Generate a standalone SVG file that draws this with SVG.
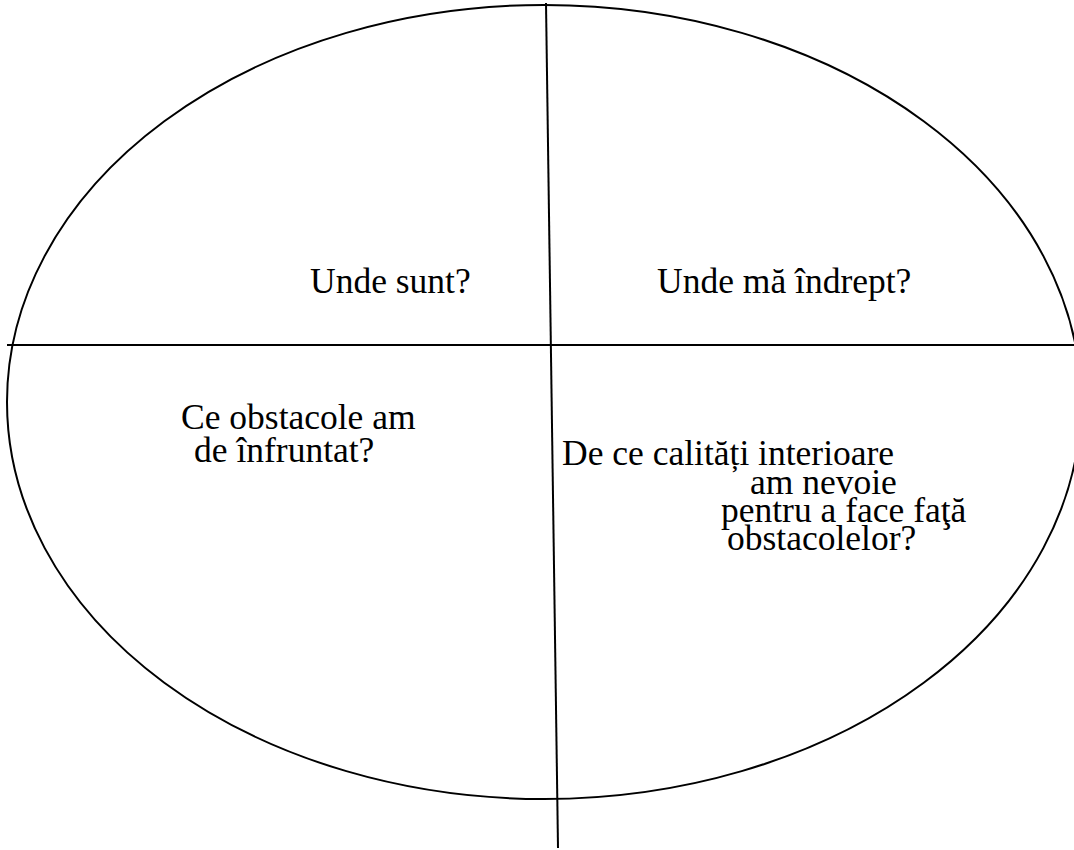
<svg xmlns="http://www.w3.org/2000/svg" width="1074" height="850" viewBox="0 0 1074 850">
<style>
.ln{fill:none;stroke:#000;stroke-width:2}
.t{font-family:"Liberation Serif","Times New Roman",serif;font-size:35.5px;fill:#000}
</style>
<rect width="1074" height="850" fill="#fff"/>
<g id="connectors">
<ellipse class="ln" cx="544" cy="402" rx="537" ry="397"/>
<line class="ln" x1="546" y1="3" x2="558" y2="848"/>
<line class="ln" x1="7" y1="345" x2="1074" y2="345"/>
</g>
<g id="q1"><text class="t" x="310" y="293">Unde sunt?</text></g>
<g id="q2"><text class="t" x="657" y="293">Unde mă îndrept?</text></g>
<g id="q3"><text class="t" x="181" y="429">Ce obstacole am</text><text class="t" x="194" y="462">de înfruntat?</text></g>
<g id="q4"><text class="t" x="562" y="465">De ce calități interioare</text><text class="t" x="750" y="494">am nevoie</text><text class="t" x="721" y="522">pentru a face faţă</text><text class="t" x="727" y="550">obstacolelor?</text></g>
</svg>
